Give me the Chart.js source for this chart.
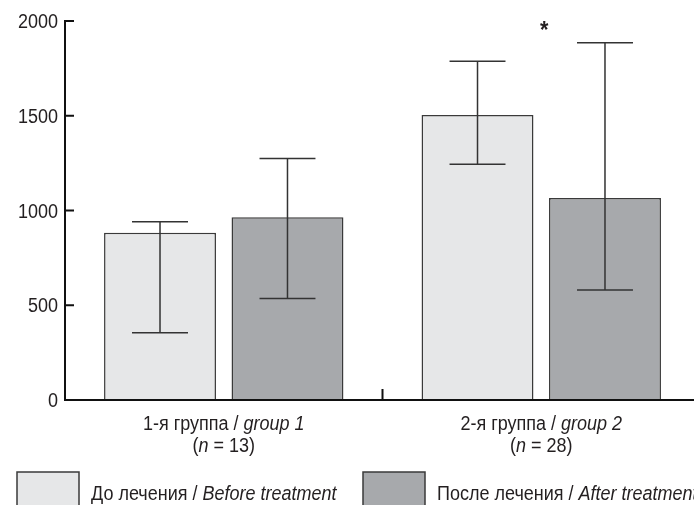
<!DOCTYPE html>
<html>
<head>
<meta charset="utf-8">
<script src="https://cdn.jsdelivr.net/npm/chart.js@4"></script>
<style>
  html, body { margin: 0; padding: 0; background: #fff; overflow: hidden; }
  #grafica { display: block; }
</style>
</head>
<body>
<canvas id="grafica" width="720" height="505"></canvas>
<script>
// data
const groupsRu = ['1-я группа', '2-я группа']
const groupsEn = ['group 1', 'group 2']
const groupN = [13, 28]

const before = [883, 1504]
const beforeLow = [355, 1244]
const beforeHigh = [941, 1787]

const after = [964, 1066]
const afterLow = [535, 580]
const afterHigh = [1275, 1885]

const seriesRu = ['До лечения', 'После лечения']
const seriesEn = ['Before treatment', 'After treatment']

const yTicks = [0, 500, 1000, 1500, 2000]
// asterisk (significance) over group 2
const starGroup = 1
const starValue = 1985

const textColor = '#231f20'
const fam = '"Liberation Sans", Arial, sans-serif'
const squeeze = 0.9

// draws text made of pieces, some italic, squeezed a bit like the original font
function richText(ctx, parts, x, y, align, size) {
  ctx.save()
  ctx.fillStyle = textColor
  ctx.textBaseline = 'alphabetic'
  ctx.textAlign = 'left'
  let total = 0
  parts.forEach(p => {
    ctx.font = (p.it ? 'italic ' : '') + (p.b ? 'bold ' : '') + size + 'px ' + fam
    p.w = ctx.measureText(p.t).width
    total += p.w
  })
  let start = x
  if (align === 'center') start = x - total * squeeze / 2
  if (align === 'right') start = x - total * squeeze
  ctx.translate(start, y)
  ctx.scale(squeeze, 1)
  let cx = 0
  parts.forEach(p => {
    ctx.font = (p.it ? 'italic ' : '') + (p.b ? 'bold ' : '') + size + 'px ' + fam
    ctx.fillText(p.t, cx, 0)
    cx += p.w
  })
  ctx.restore()
}

const errorBars = {
  id: 'errorBars',
  afterDatasetsDraw(chart) {
    const ctx = chart.ctx
    const y = chart.scales.y
    const lows = [beforeLow, afterLow]
    const highs = [beforeHigh, afterHigh]
    ctx.save()
    ctx.strokeStyle = '#333'
    ctx.lineWidth = 1.5
    chart.data.datasets.forEach((ds, i) => {
      chart.getDatasetMeta(i).data.forEach((bar, j) => {
        const top = y.getPixelForValue(highs[i][j])
        const bot = y.getPixelForValue(lows[i][j])
        const half = bar.width / 4
        ctx.beginPath()
        ctx.moveTo(bar.x, top); ctx.lineTo(bar.x, bot)
        ctx.moveTo(bar.x - half, top); ctx.lineTo(bar.x + half, top)
        ctx.moveTo(bar.x - half, bot); ctx.lineTo(bar.x + half, bot)
        ctx.stroke()
      })
    })
    ctx.restore()
  }
}

const extras = {
  id: 'extras',
  afterDraw(chart) {
    const ctx = chart.ctx
    const x = chart.scales.x
    const y = chart.scales.y
    const area = chart.chartArea

    // axis lines again (bars cover the bottom one a bit)
    ctx.save()
    ctx.strokeStyle = '#111'
    ctx.lineWidth = 2
    ctx.beginPath()
    ctx.moveTo(area.left, y.getPixelForValue(2000) - 1)
    ctx.lineTo(area.left, area.bottom)
    ctx.lineTo(area.right, area.bottom)
    // inner tick marks on y
    y.ticks.forEach(t => {
      const py = y.getPixelForValue(t.value)
      ctx.moveTo(area.left, py); ctx.lineTo(area.left + 9, py)
    })
    // tick between the groups
    const mid = (x.getPixelForValue(0) + x.getPixelForValue(1)) / 2
    ctx.moveTo(mid, area.bottom); ctx.lineTo(mid, area.bottom - 11)
    ctx.stroke()
    ctx.restore()

    // y labels
    y.ticks.forEach(t => {
      const py = y.getPixelForValue(t.value)
      richText(ctx, [{ t: String(t.value) }], area.left - 7, py + 7, 'right', 20)
    })

    // group labels
    groupsRu.forEach((g, i) => {
      const px = x.getPixelForValue(i)
      richText(ctx, [{ t: g + ' / ' }, { t: groupsEn[i], it: true }], px, 430, 'center', 20)
      richText(ctx, [{ t: '(' }, { t: 'n', it: true }, { t: ' = ' + groupN[i] + ')' }], px, 452, 'center', 20)
    })

    // asterisk
    richText(ctx, [{ t: '*', b: true }], x.getPixelForValue(starGroup) + 3, y.getPixelForValue(starValue) + 14, 'center', 24)

    // legend
    const boxX = [17, 363]
    chart.data.datasets.forEach((ds, i) => {
      ctx.save()
      ctx.fillStyle = ds.backgroundColor
      ctx.strokeStyle = ds.borderColor
      ctx.lineWidth = 1.5
      ctx.fillRect(boxX[i], 472, 62, 50)
      ctx.strokeRect(boxX[i], 472, 62, 50)
      ctx.restore()
      richText(ctx, [{ t: seriesRu[i] + ' / ' }, { t: seriesEn[i], it: true }], boxX[i] + 74, 500, 'left', 20)
    })
  }
}

const data = {
  labels: groupsRu,
  datasets: [
    {
      label: seriesRu[0] + ' / ' + seriesEn[0],
      data: before,
      backgroundColor: '#e6e7e8',
      borderColor: '#3a3a3a',
      borderWidth: 1.5,
      categoryPercentage: 0.803,
      barPercentage: 0.878
    },
    {
      label: seriesRu[1] + ' / ' + seriesEn[1],
      data: after,
      backgroundColor: '#a7a9ac',
      borderColor: '#3a3a3a',
      borderWidth: 1.5,
      categoryPercentage: 0.803,
      barPercentage: 0.878
    }
  ]
}

const config = {
  type: 'bar',
  data: data,
  options: {
    responsive: false,
    animation: false,
    events: [],
    layout: { padding: { top: 21, right: 20, left: 0, bottom: 0 } },
    plugins: {
      legend: { display: false },
      tooltip: { enabled: false }
    },
    scales: {
      x: {
        grid: { display: false },
        border: { display: false },
        ticks: { display: false },
        afterFit: s => { s.height = 105 }
      },
      y: {
        min: yTicks[0],
        max: yTicks[yTicks.length - 1],
        afterBuildTicks: s => { s.ticks = yTicks.map(v => ({ value: v })) },
        grid: { display: false },
        border: { display: false },
        ticks: { display: false },
        afterFit: s => { s.width = 65 }
      }
    }
  },
  plugins: [errorBars, extras]
}

new Chart(document.getElementById('grafica'), config)
</script>
</body>
</html>
